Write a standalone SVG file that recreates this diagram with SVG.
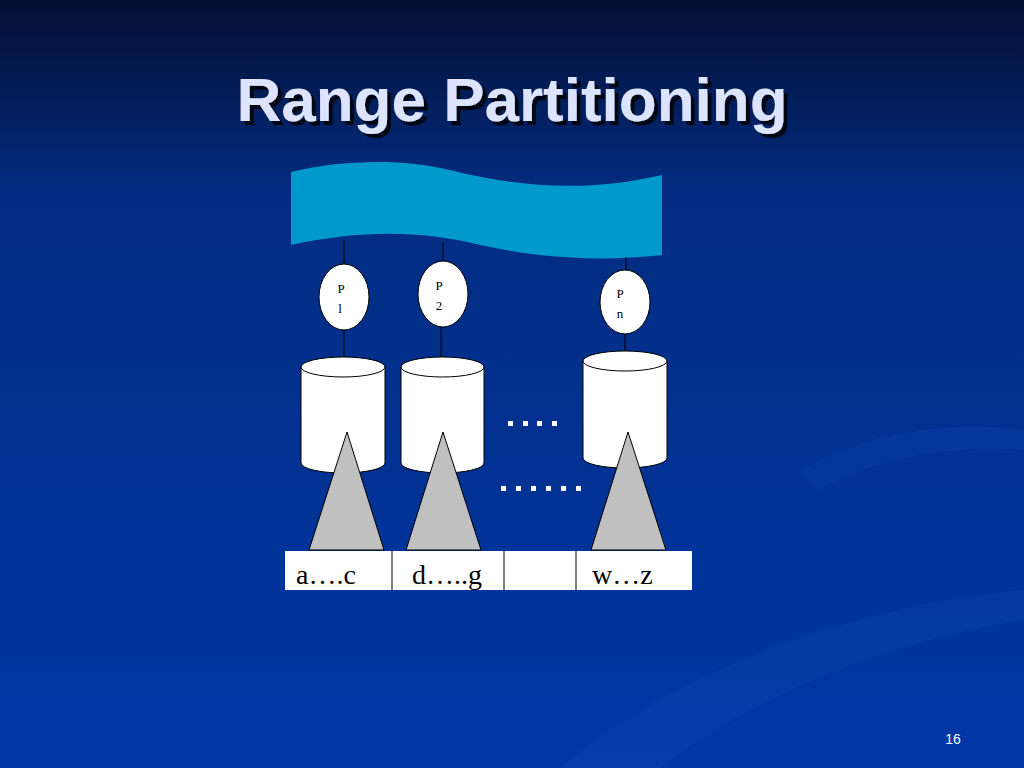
<svg xmlns="http://www.w3.org/2000/svg" width="1024" height="768" viewBox="0 0 1024 768">
<defs>
<linearGradient id="bg" x1="0" y1="0" x2="0" y2="1">
<stop offset="0" stop-color="#040f33"/><stop offset="0.25" stop-color="#022c80"/><stop offset="1" stop-color="#0038a8"/>
</linearGradient>
<filter id="sh" x="-5%" y="-20%" width="115%" height="150%"><feDropShadow dx="4" dy="4" stdDeviation="0.5" flood-color="#000" flood-opacity="0.8"/></filter>
<style>
.ln{stroke:#000;stroke-width:1;fill:none}
.wh{fill:#fff;stroke:#000;stroke-width:1}
.tri{fill:#c0c0c0;stroke:#000;stroke-width:1}
.pl{font-family:"Liberation Serif",serif;font-size:13px;fill:#000;text-anchor:middle}
.rg{font-family:"Liberation Serif",serif;font-size:28px;fill:#000}
</style>
</defs>
<rect width="1024" height="768" fill="url(#bg)"/>
<path d="M560 768 C700 650 900 600 1024 590 L1024 620 C900 640 760 690 660 768Z" fill="#1a4ab8" opacity="0.2"/>
<path d="M800 470 C870 430 960 420 1024 430 L1024 450 C960 445 880 455 820 490Z" fill="#1a4ab8" opacity="0.2"/>
<text x="512" y="121" font-family="'Liberation Sans',sans-serif" font-weight="bold" font-size="62" fill="#dde4ff" text-anchor="middle" filter="url(#sh)">Range Partitioning</text>
<g id="banner"><path d="M291 172 C340 160 400 158 450 170 C520 188 590 192 662 175 L662 255 C600 262 540 258 480 245 C420 230 360 230 291 245 Z" fill="#0099cc"/></g>
<g id="connectors">
<line class="ln" x1="344" y1="240" x2="344" y2="265"/>
<line class="ln" x1="443" y1="242" x2="443" y2="262"/>
<line class="ln" x1="626" y1="257" x2="626" y2="270"/>
<line class="ln" x1="344" y1="329" x2="344" y2="357"/>
<line class="ln" x1="441" y1="326" x2="441" y2="357"/>
<line class="ln" x1="625" y1="334" x2="625" y2="352"/>
</g>
<g id="p1"><ellipse class="wh" cx="344" cy="297" rx="25" ry="33"/><text class="pl" x="341" y="293">P</text><text class="pl" x="340" y="313">l</text></g>
<g id="p2"><ellipse class="wh" cx="443" cy="294" rx="25" ry="33"/><text class="pl" x="439" y="290">P</text><text class="pl" x="439" y="310">2</text></g>
<g id="pn"><ellipse class="wh" cx="625" cy="302" rx="25" ry="32"/><text class="pl" x="620" y="298">P</text><text class="pl" x="620" y="318">n</text></g>
<g id="disk1"><path class="wh" d="M301 367 L301 463 A42 10 0 0 0 385 463 L385 367"/><ellipse class="wh" cx="343" cy="367" rx="42" ry="10"/></g>
<g id="disk2"><path class="wh" d="M401 367 L401 463 A41.5 10 0 0 0 484 463 L484 367"/><ellipse class="wh" cx="442.5" cy="367" rx="41.5" ry="10"/></g>
<g id="diskn"><path class="wh" d="M583 361 L583 458 A42 10 0 0 0 667 458 L667 361"/><ellipse class="wh" cx="625" cy="361" rx="42" ry="10"/></g>
<g id="tri1"><polygon class="tri" points="347,432 384,550 309,550"/></g>
<g id="tri2"><polygon class="tri" points="443,432 481,550 406,550"/></g>
<g id="trin"><polygon class="tri" points="628,432 666,550 591,550"/></g>
<g id="ranges">
<rect x="285" y="551" width="407" height="39" fill="#fff"/>
<line class="ln" x1="392" y1="551" x2="392" y2="590"/>
<line class="ln" x1="504" y1="551" x2="504" y2="590"/>
<line class="ln" x1="576" y1="551" x2="576" y2="590"/>
<text class="rg" x="296" y="584">a….c</text>
<text class="rg" x="412" y="584">d…..g</text>
<text class="rg" x="592" y="584">w…z</text>
</g>
<g fill="#fff">
<rect x="508" y="421" width="5" height="5"/><rect x="523" y="421" width="5" height="5"/><rect x="537" y="421" width="5" height="5"/><rect x="552" y="421" width="5" height="5"/>
<rect x="501" y="486" width="5" height="5"/><rect x="516" y="486" width="5" height="5"/><rect x="531" y="486" width="5" height="5"/><rect x="546" y="486" width="5" height="5"/><rect x="561" y="486" width="5" height="5"/><rect x="576" y="486" width="5" height="5"/>
</g>
<text x="953" y="744" font-family="'Liberation Sans',sans-serif" font-size="14" fill="#fff" text-anchor="middle">16</text>
</svg>
